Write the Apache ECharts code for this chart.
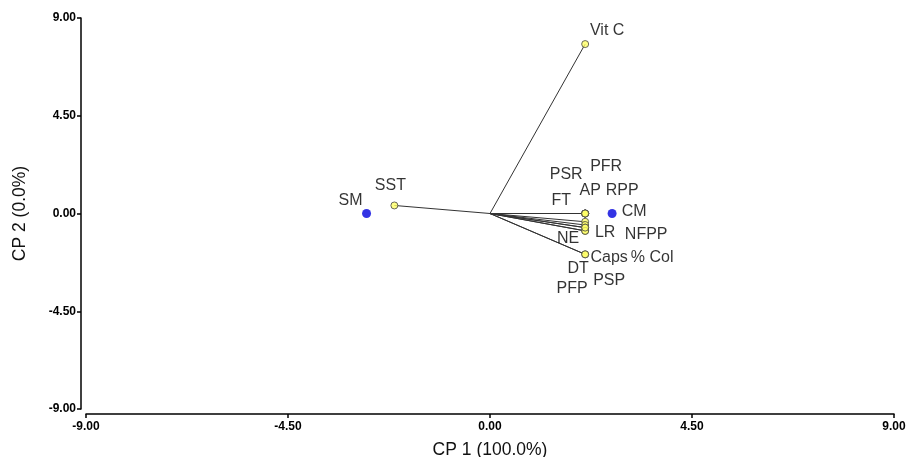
<!DOCTYPE html>
<html>
<head>
<meta charset="utf-8">
<script src="https://cdn.jsdelivr.net/npm/echarts@6/dist/echarts.min.js"></script>
<style>
html,body{margin:0;padding:0;background:#fff;}
#c{width:908px;height:457px;}
</style>
</head>
<body>
<div id="c"></div>
<script>
// Variables (yellow points, vectors from origin)
const varNames = ['Vit C','SST','PSR','PFR','AP','RPP','FT','LR','NFPP','NE','DT','PSP','PFP','Caps','% Col'];
const varX = [2.12,-2.13,2.12,2.12,2.12,2.12,2.12,2.12,2.12,2.12,2.12,2.12,2.12,2.12,2.12];
const varY = [7.80,0.37,0.00,0.00,0.00,0.00,0.00,-0.38,-0.53,-0.65,-0.80,-0.80,-0.65,-1.88,-1.88];
// Treatments (blue points)
const trtNames = ['SM','CM'];
const trtX = [-2.75,2.72];
const trtY = [0.00,0.00];
// Axis ticks
const axisMin = -9, axisMax = 9, axisStep = 4.5;
const xTitle = 'CP 1 (100.0%)';
const yTitle = 'CP 2 (0.0%)';

// Label placement (pixel offsets from each point) - styling only
const labelOffsets = {
  'Vit C':[22,-13],'SST':[-4,-20],'PSR':[-19,-39],'PFR':[21,-47],'AP':[5,-23],'RPP':[37,-23],
  'FT':[-24,-13],'LR':[20,11],'NFPP':[61,10],'NE':[-17,11],'DT':[-7,38],'PSP':[24,50],
  'PFP':[-13,61],'Caps':[24,3],'% Col':[67,3],'SM':[-16,-13],'CM':[22,-2]
};

const font = 'Arial, "Liberation Sans", sans-serif';
const chart = echarts.init(document.getElementById('c'), null, {renderer:'canvas'});

function lbl(name){
  const o = labelOffsets[name] || [0,-12];
  return {show:true, position:'inside', offset:o, formatter:name, color:'#000',
    fontSize:16, fontFamily:font, align:'center', verticalAlign:'middle'};
}

const vecData = varNames.map((n,i)=>({coords:[[0,0],[varX[i],varY[i]]]}));
const varData = varNames.map((n,i)=>({value:[varX[i],varY[i]], name:n, label:lbl(n)}));
const trtData = trtNames.map((n,i)=>({value:[trtX[i],trtY[i]], name:n, label:lbl(n)}));

const axisCommon = {
  type:'value', min:axisMin, max:axisMax, interval:axisStep, offset:5,
  splitLine:{show:false},
  axisLine:{show:true, onZero:false, lineStyle:{color:'#000', width:1.5}},
  axisTick:{show:true, inside:false, length:4, lineStyle:{color:'#000', width:1.5}},
  axisLabel:{color:'#000', fontWeight:'bold', fontSize:12, fontFamily:font,
    formatter:v=>v.toFixed(2)},
  nameLocation:'middle',
  nameTextStyle:{color:'#111', fontFamily:font, fontSize:17.5}
};

chart.setOption({
  animation:false,
  backgroundColor:'#fff',
  grid:{left:86, right:14, top:18, bottom:48, containLabel:false, outerBoundsMode:'none'},
  xAxis:Object.assign({}, axisCommon, {name:xTitle, nameGap:27,
    axisLabel:Object.assign({}, axisCommon.axisLabel, {margin:7})}),
  yAxis:Object.assign({}, axisCommon, {name:yTitle, nameGap:52,
    axisLabel:Object.assign({}, axisCommon.axisLabel, {margin:5})}),
  series:[
    {type:'lines', coordinateSystem:'cartesian2d', z:1, silent:true,
      lineStyle:{color:'#333', width:1, opacity:1}, data:vecData},
    {type:'scatter', z:3, symbol:'circle', symbolSize:7,
      itemStyle:{color:'#ffff66', borderColor:'#444', borderWidth:1}, data:varData},
    {type:'scatter', z:3, symbol:'circle', symbolSize:9,
      itemStyle:{color:'#0000dd', borderWidth:0}, data:trtData}
  ]
});
</script>
</body>
</html>
